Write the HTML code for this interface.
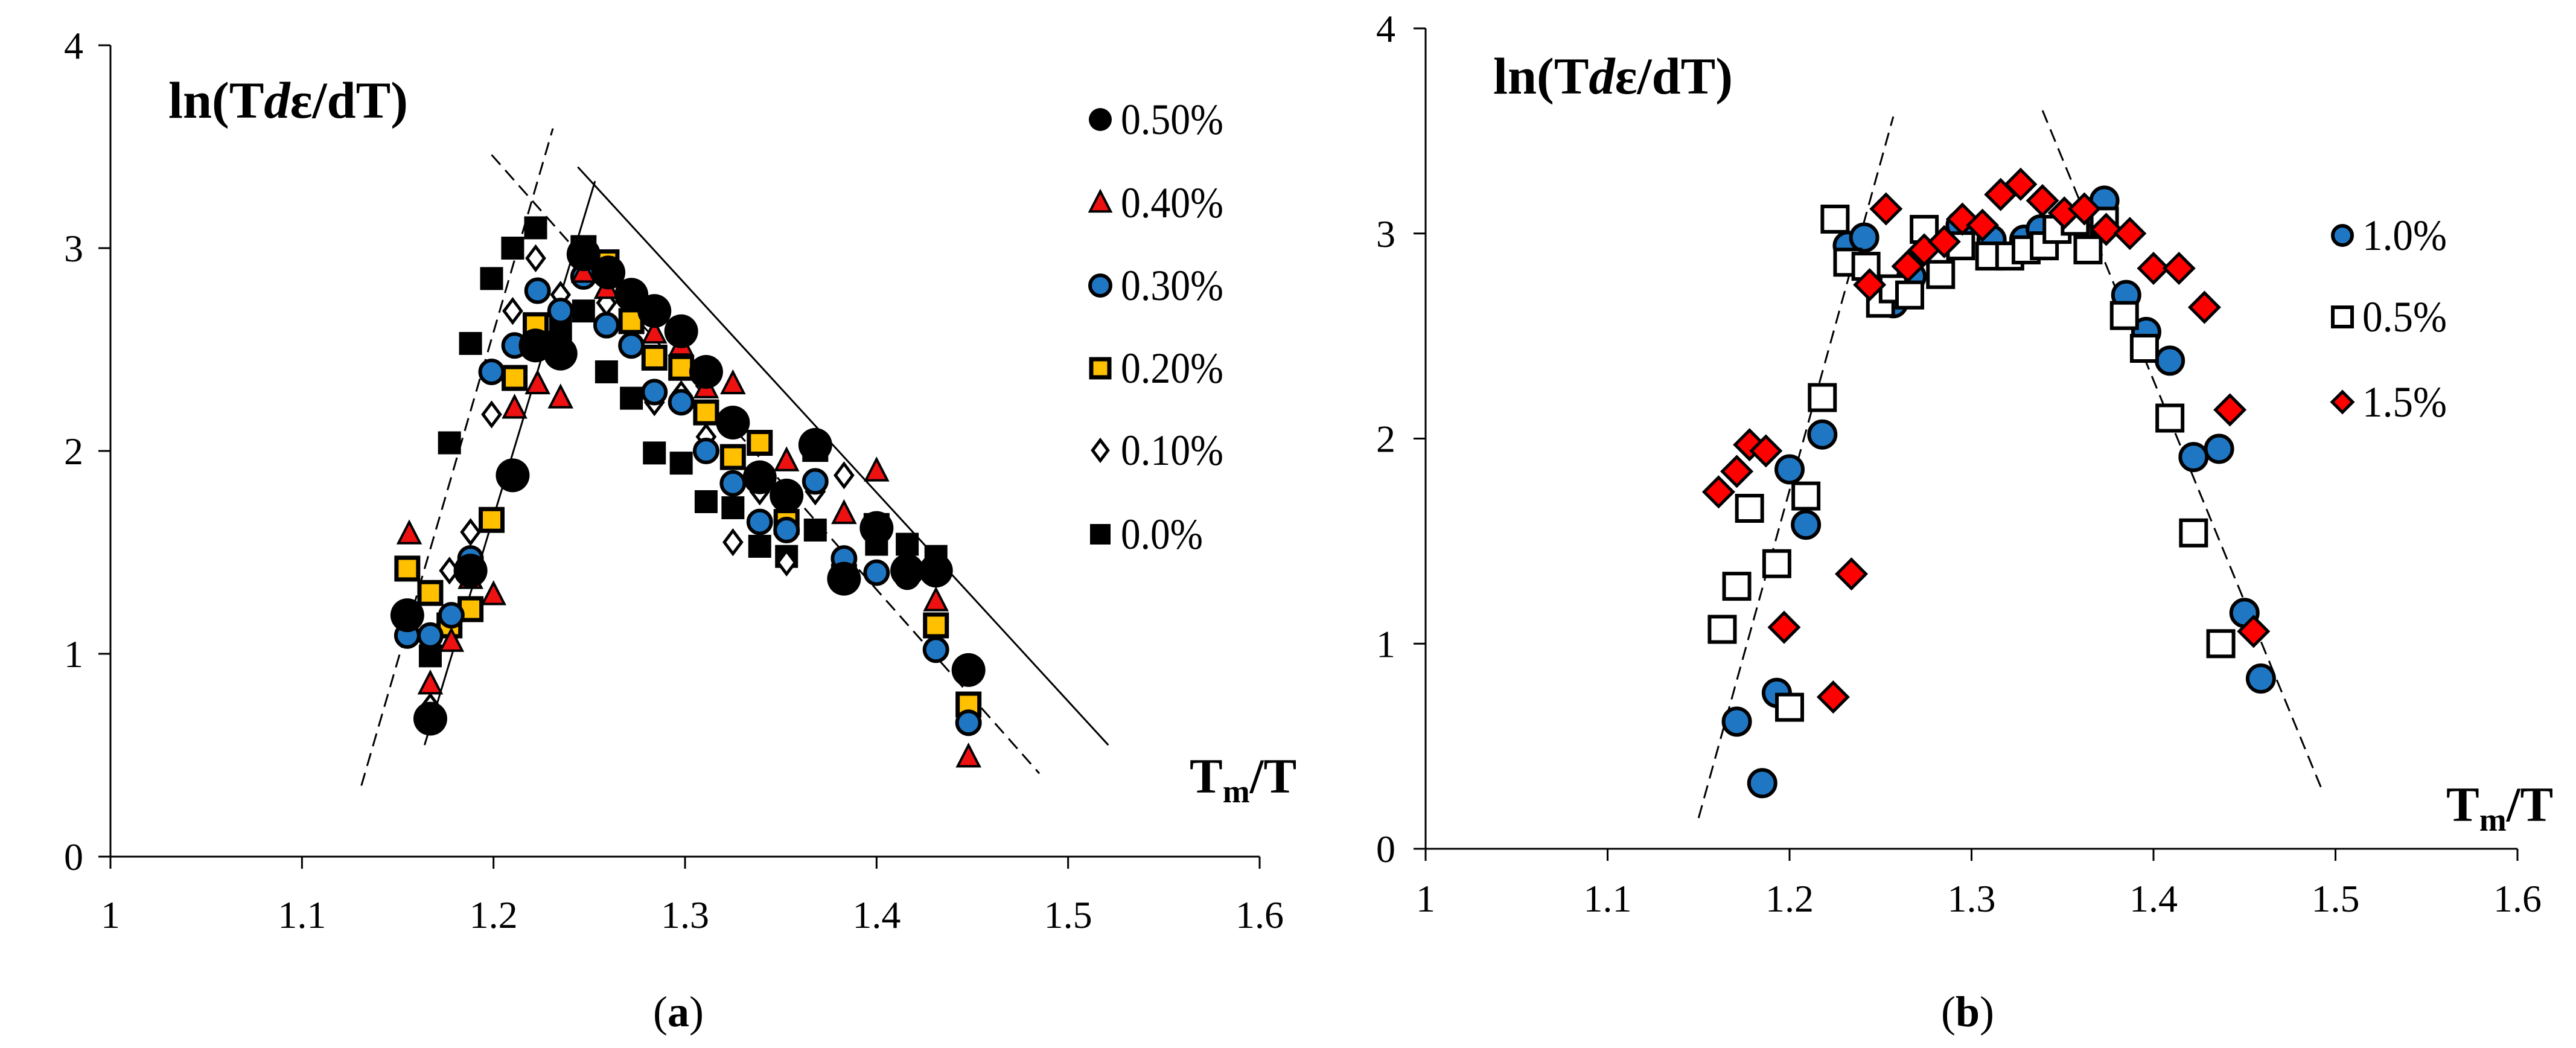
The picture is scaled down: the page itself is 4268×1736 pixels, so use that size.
<!DOCTYPE html>
<html><head><meta charset="utf-8"><style>
html,body{margin:0;padding:0;background:#fff;}
svg{display:block;font-family:"Liberation Serif",serif;}
</style></head><body>
<svg id="chart" width="4268" height="1736" viewBox="0 0 4268 1736" xmlns="http://www.w3.org/2000/svg">
<g id="pa"></g>
<g id="pb"></g>
</svg>
<script>
// ---------- Panel (a) data ----------
const xTicks = [1, 1.1, 1.2, 1.3, 1.4, 1.5, 1.6];
const xTickLabels = ["1", "1.1", "1.2", "1.3", "1.4", "1.5", "1.6"];
const yTicks = [0, 1, 2, 3, 4];
const yTickLabels = ["0", "1", "2", "3", "4"];

const a50x = [1.155,1.167,1.188,1.210,1.222,1.235,1.247,1.260,1.272,1.284,1.298,1.311,1.325,1.339,1.353,1.368,1.383,1.400,1.416,1.431,1.448];
const a50y = [1.19,0.68,1.41,1.88,2.52,2.48,2.97,2.88,2.77,2.69,2.59,2.39,2.14,1.87,1.78,2.03,1.37,1.62,1.41,1.41,0.92];
const a40x = [1.156,1.167,1.178,1.188,1.2,1.211,1.223,1.235,1.247,1.259,1.272,1.284,1.298,1.311,1.325,1.353,1.383,1.4,1.431,1.448];
const a40y = [1.59,0.85,1.06,1.37,1.29,2.21,2.33,2.26,2.88,2.80,2.78,2.58,2.52,2.31,2.33,1.95,1.69,1.90,1.26,0.49];
const a30x = [1.155,1.167,1.178,1.188,1.199,1.211,1.223,1.235,1.247,1.259,1.272,1.284,1.298,1.311,1.325,1.339,1.353,1.368,1.383,1.4,1.416,1.431,1.448];
const a30y = [1.09,1.09,1.19,1.47,2.39,2.52,2.79,2.69,2.86,2.62,2.52,2.29,2.24,2.00,1.84,1.65,1.61,1.85,1.47,1.40,1.38,1.02,0.66];
const a20x = [1.155,1.167,1.177,1.188,1.199,1.211,1.222,1.247,1.259,1.272,1.284,1.298,1.311,1.325,1.339,1.353,1.368,1.383,1.4,1.431,1.448];
const a20y = [1.42,1.30,1.14,1.22,1.66,2.36,2.62,3.0,2.93,2.64,2.46,2.41,2.19,1.97,2.04,1.65,2.01,1.38,1.63,1.14,0.75];
const a10x = [1.167,1.177,1.188,1.199,1.21,1.222,1.235,1.247,1.259,1.272,1.284,1.298,1.311,1.325,1.339,1.353,1.368,1.383,1.4,1.431];
const a10y = [0.74,1.41,1.60,2.18,2.69,2.95,2.77,2.97,2.73,2.53,2.24,2.28,2.07,1.55,1.80,1.45,1.80,1.88,1.61,1.10];
const a00x = [1.167,1.177,1.188,1.199,1.21,1.222,1.235,1.247,1.259,1.272,1.284,1.298,1.311,1.325,1.339,1.353,1.368,1.4,1.416,1.431];
const a00y = [0.99,2.04,2.53,2.85,3.0,3.10,2.60,2.69,2.39,2.26,1.99,1.94,1.75,1.72,1.53,1.48,1.61,1.54,1.54,1.48];
const aLineDash1 = [1.131,0.35,1.231,3.59];
const aLineSolid1 = [1.164,0.55,1.253,3.33];
const aLineDash2 = [1.199,3.46,1.485,0.41];
const aLineSolid2 = [1.244,3.40,1.521,0.55];
const aLegendLabels = ["0.50%","0.40%","0.30%","0.20%","0.10%","0.0%"];

// ---------- Panel (b) data ----------
const b10x = [1.171,1.185,1.193,1.2,1.209,1.218,1.232,1.241,1.257,1.267,1.294,1.311,1.329,1.338,1.373,1.385,1.396,1.409,1.422,1.436,1.45,1.459];
const b10y = [0.62,0.32,0.76,1.85,1.58,2.02,2.94,2.98,2.66,2.79,3.04,2.97,2.97,3.02,3.16,2.70,2.52,2.38,1.91,1.95,1.15,0.83];
const b05x = [1.163,1.171,1.178,1.193,1.2,1.209,1.218,1.225,1.232,1.242,1.25,1.257,1.266,1.274,1.283,1.294,1.31,1.321,1.33,1.34,1.347,1.357,1.364,1.373,1.384,1.395,1.409,1.422,1.437];
const b05y = [1.07,1.28,1.66,1.39,0.69,1.72,2.20,3.07,2.86,2.84,2.66,2.73,2.70,3.02,2.80,2.94,2.89,2.89,2.92,2.94,3.02,3.06,2.92,3.06,2.60,2.44,2.10,1.54,1.00];
const b15x = [1.161,1.171,1.178,1.187,1.197,1.224,1.234,1.244,1.253,1.265,1.274,1.285,1.295,1.306,1.316,1.327,1.339,1.351,1.362,1.374,1.387,1.4,1.414,1.428,1.442,1.455];
const b15y = [1.74,1.84,1.97,1.94,1.08,0.74,1.34,2.75,3.12,2.84,2.92,2.96,3.07,3.04,3.19,3.24,3.16,3.10,3.12,3.02,3.00,2.83,2.83,2.64,2.14,1.06];
const bLineDash1 = [1.150,0.15,1.257,3.57];
const bLineDash2 = [1.339,3.60,1.492,0.30];
const bLegendLabels = ["1.0%","0.5%","1.5%"];

const NS = "http://www.w3.org/2000/svg";
function mk(parent, tag, attrs, text) {
  const e = document.createElementNS(NS, tag);
  for (const k in attrs) e.setAttribute(k, attrs[k]);
  if (text !== undefined) e.textContent = text;
  parent.appendChild(e);
  return e;
}

function makeScales(x0px, x1px, y0px, y4px) {
  return {
    sx: v => x0px + (v - 1) / 0.6 * (x1px - x0px),
    sy: v => y0px - v / 4 * (y0px - y4px)
  };
}

function drawAxes(g, S, cfg) {
  const ax = mk(g, "g", {});
  
  
  const xl = mk(ax, "line", {x1:S.sx(1), y1:S.sy(0), x2:S.sx(1.6), y2:S.sy(0), stroke:"#000","stroke-width":3});
  
  
  const yl = mk(ax, "line", {x1:S.sx(1), y1:S.sy(0), x2:S.sx(1), y2:S.sy(4), stroke:"#000","stroke-width":3});
  
  
  xTicks.forEach((t, i) => {
    mk(ax, "line", {x1:S.sx(t), y1:S.sy(0), x2:S.sx(t), y2:S.sy(0)+20, stroke:"#000","stroke-width":3});
    const tl = mk(ax, "text", {x:S.sx(t), y:S.sy(0)+cfg.xLabOff, "text-anchor":"middle","font-size":64}, xTickLabels[i]);
    
    
  });
  yTicks.forEach((t, i) => {
    mk(ax, "line", {x1:S.sx(1)-20, y1:S.sy(t), x2:S.sx(1), y2:S.sy(t), stroke:"#000","stroke-width":3});
    const tl = mk(ax, "text", {x:S.sx(1)-cfg.yLabOff, y:S.sy(t)+22, "text-anchor":"end","font-size":64}, yTickLabels[i]);
    
    
  });
}

function drawLine(g, S, L, dashed, name) {
  const l = mk(g, "line", {x1:S.sx(L[0]), y1:S.sy(L[1]), x2:S.sx(L[2]), y2:S.sy(L[3]), stroke:"#000","stroke-width":3, "stroke-dasharray": dashed ? "22,12" : "none"});
  
  
}

function marker(g, type, cx, cy, size) {
  let e;
  if (type === "bigcircle") e = mk(g, "circle", {cx, cy, r:size, fill:"#000"});
  else if (type === "bluecircle") e = mk(g, "circle", {cx, cy, r:size, fill:"#1f77c4", stroke:"#000","stroke-width":6});
  else if (type === "triangle") e = mk(g, "polygon", {points:`${cx},${cy-size} ${cx-size*0.9},${cy+size*0.75} ${cx+size*0.9},${cy+size*0.75}`, fill:"#ee1111", stroke:"#000","stroke-width":4});
  else if (type === "yellowsquare") e = mk(g, "rect", {x:cx-size, y:cy-size, width:size*2, height:size*2, fill:"#ffc000", stroke:"#000","stroke-width":7});
  else if (type === "whitediamond") e = mk(g, "polygon", {points:`${cx},${cy-size} ${cx+size*0.75},${cy} ${cx},${cy+size} ${cx-size*0.75},${cy}`, fill:"#fff", stroke:"#000","stroke-width":5});
  else if (type === "blacksquare") e = mk(g, "rect", {x:cx-size, y:cy-size, width:size*2, height:size*2, fill:"#000"});
  else if (type === "whitesquare") e = mk(g, "rect", {x:cx-size, y:cy-size, width:size*2, height:size*2, fill:"#fff", stroke:"#000","stroke-width":6});
  else if (type === "reddiamond") e = mk(g, "polygon", {points:`${cx},${cy-size} ${cx+size},${cy} ${cx},${cy+size} ${cx-size},${cy}`, fill:"#ff0000", stroke:"#000","stroke-width":5});
  return e;
}

function drawSeries(g, S, xs, ys, type, size, name) {
  const sg = mk(g, "g", {});
  
  
  xs.forEach((x, i) => {
    const m = marker(sg, type, S.sx(x), S.sy(ys[i]), size);
    
    
  });
}

function drawLegend(g, x, ys, types, sizes, labels, tx, tlen) {
  const lg = mk(g, "g", {});
  
  
  labels.forEach((lab, i) => {
    const ent = mk(lg, "g", {});
    
    
    marker(ent, types[i], x, ys[i], sizes[i]);
    mk(ent, "text", {x:tx, y:ys[i]+24, "font-size":72, textLength: tlen * lab.length, lengthAdjust:"spacingAndGlyphs"}, lab);
  });
}

function titles(g, yx, yy, tx, ty, px, py, letter) {
  const yt = mk(g, "text", {x:yx, y:yy, "font-size":86, "font-weight":"bold", textLength:397, lengthAdjust:"spacingAndGlyphs"});
  
  
  yt.innerHTML = 'ln(T<tspan font-style="italic">d</tspan>ε/dT)';
  const xt = mk(g, "text", {x:tx, y:ty, "font-size":82, "font-weight":"bold"});
  
  
  xt.innerHTML = 'T<tspan font-size="54" dy="16">m</tspan><tspan dy="-16">/T</tspan>';
  const pl = mk(g, "text", {x:px, y:py, "font-size":72, "text-anchor":"middle"});
  
  
  pl.innerHTML = '(<tspan font-weight="bold">' + letter + '</tspan>)';
}

// Panel a
const ga = document.getElementById("pa");
const SA = makeScales(183, 2087, 1419, 75);
drawAxes(ga, SA, {xLabOff:118, yLabOff:45});
drawLine(ga, SA, aLineDash1, true, 'trend-line-dashed-rise');
drawLine(ga, SA, aLineSolid1, false, 'trend-line-solid-rise');
drawLine(ga, SA, aLineDash2, true, 'trend-line-dashed-fall');
drawLine(ga, SA, aLineSolid2, false, 'trend-line-solid-fall');
drawSeries(ga, SA, a00x, a00y, "blacksquare", 19, 'series-0-0');
drawSeries(ga, SA, a10x, a10y, "whitediamond", 19, 'series-0-10');
drawSeries(ga, SA, a20x, a20y, "yellowsquare", 18, 'series-0-20');
drawSeries(ga, SA, a30x, a30y, "bluecircle", 19, 'series-0-30');
drawSeries(ga, SA, a40x, a40y, "triangle", 20, 'series-0-40');
drawSeries(ga, SA, a50x, a50y, "bigcircle", 28, 'series-0-50');
drawLegend(ga, 1823, [198,336,473,610,746,885],
  ["bigcircle","triangle","bluecircle","yellowsquare","whitediamond","blacksquare"],
  [19,19,17,15,17,17], aLegendLabels, 1857, 34);
titles(ga, 279, 195, 1971, 1313, 1124, 1700, 'a');

// Panel b
const gb = document.getElementById("pb");
const SB = makeScales(2362, 4171, 1406, 47);
drawAxes(gb, SB, {xLabOff:104, yLabOff:50});
drawLine(gb, SB, bLineDash1, true, 'trend-line-dashed-rise');
drawLine(gb, SB, bLineDash2, true, 'trend-line-dashed-fall');
drawSeries(gb, SB, b10x, b10y, "bluecircle", 22, 'series-1-0');
drawSeries(gb, SB, b05x, b05y, "whitesquare", 21, 'series-0-5');
drawSeries(gb, SB, b15x, b15y, "reddiamond", 24, 'series-1-5');
drawLegend(gb, 3881, [390,525,666], ["bluecircle","whitesquare","reddiamond"], [16,16,17], bLegendLabels, 3914, 35);
titles(gb, 2474, 155, 4053, 1360, 3260, 1700, 'b');
</script>
</body></html>
